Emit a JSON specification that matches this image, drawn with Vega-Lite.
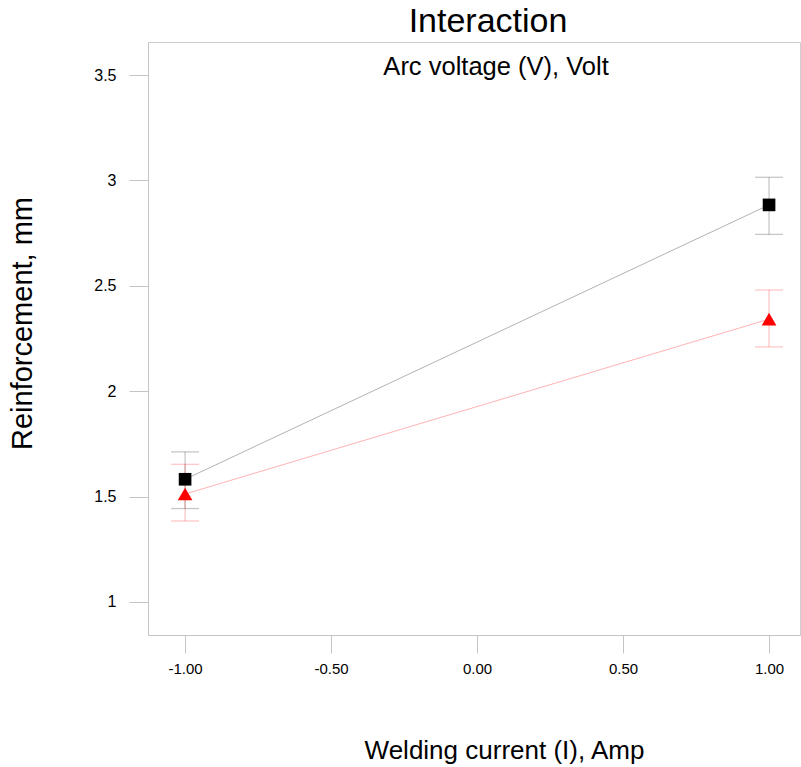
{
  "$schema": "https://vega.github.io/schema/vega-lite/v6.json",
  "autosize": "none",
  "width": 652,
  "height": 593,
  "padding": {"left": 148, "top": 42, "right": 1, "bottom": 132},
  "background": "white",
  "config": {
    "font": "Liberation Sans",
    "view": {"stroke": "#cfcfcf", "strokeWidth": 1},
    "axis": {"grid": false, "domainColor": "#c4c4c4", "tickColor": "#c4c4c4", "labelColor": "#000", "titleColor": "#000", "titleFontWeight": "normal", "labelFont": "Liberation Sans", "titleFont": "Liberation Sans"}
  },
  "title": {"text": "Interaction", "fontSize": 34, "fontWeight": "normal", "anchor": "middle", "dx": 14, "dy": 1, "color": "#000"},
  "datasets": {
    "pts": [
      {"series": "B-", "x": -1, "y": 1.582, "lo": 1.443, "hi": 1.712},
      {"series": "B-", "x": 1, "y": 2.884, "lo": 2.744, "hi": 3.015},
      {"series": "B+", "x": -1, "y": 1.512, "lo": 1.384, "hi": 1.653},
      {"series": "B+", "x": 1, "y": 2.342, "lo": 2.21, "hi": 2.48}
    ]
  },
  "layer": [
    {
      "data": {"name": "pts"},
      "mark": {"type": "line", "strokeWidth": 1, "opacity": 0.3},
      "encoding": {
        "x": {"field": "x", "type": "quantitative", "scale": {"domain": [-1.127, 1.106], "nice": false, "zero": false},
              "axis": {"values": [-1, -0.5, 0, 0.5, 1], "labelExpr": "replace(format(datum.value, '.2f'), '\u2212', '-')", "tickSize": 18, "labelPadding": 8, "labelFontSize": 15, "labelBaseline": "top",
                       "title": "Welding current (I), Amp", "titleFontSize": 26, "titleX": 356, "titleY": 123, "titleAlign": "center", "titleBaseline": "alphabetic", "titleAnchor": null}},
        "y": {"field": "y", "type": "quantitative", "scale": {"domain": [0.843, 3.657], "nice": false, "zero": false},
              "axis": {"values": [1, 1.5, 2, 2.5, 3, 3.5], "format": "~g", "tickSize": 19, "labelPadding": 13, "labelFontSize": 16,
                       "title": "Reinforcement, mm", "titleFontSize": 29, "titleX": -117, "titleY": 281, "titleAlign": "center", "titleBaseline": "alphabetic", "titleAngle": -90}},
        "color": {"field": "series", "type": "nominal", "scale": {"domain": ["B-", "B+"], "range": ["#000000", "#ff0000"]}, "legend": null},
        "detail": {"field": "series"}
      }
    },
    {
      "data": {"name": "pts"},
      "mark": {"type": "rule", "strokeWidth": 1.3, "opacity": 0.22},
      "encoding": {
        "x": {"field": "x", "type": "quantitative"},
        "y": {"field": "lo", "type": "quantitative"},
        "y2": {"field": "hi"},
        "color": {"field": "series", "type": "nominal", "legend": null}
      }
    },
    {
      "data": {"name": "pts"},
      "mark": {"type": "tick", "orient": "horizontal", "size": 28, "thickness": 1.3, "opacity": 0.22},
      "encoding": {
        "x": {"field": "x", "type": "quantitative"},
        "y": {"field": "lo", "type": "quantitative"},
        "color": {"field": "series", "type": "nominal", "legend": null}
      }
    },
    {
      "data": {"name": "pts"},
      "mark": {"type": "tick", "orient": "horizontal", "size": 28, "thickness": 1.3, "opacity": 0.22},
      "encoding": {
        "x": {"field": "x", "type": "quantitative"},
        "y": {"field": "hi", "type": "quantitative"},
        "color": {"field": "series", "type": "nominal", "legend": null}
      }
    },
    {
      "data": {"name": "pts"},
      "mark": {"type": "point", "filled": true, "opacity": 1},
      "encoding": {
        "x": {"field": "x", "type": "quantitative"},
        "y": {"field": "y", "type": "quantitative"},
        "color": {"field": "series", "type": "nominal", "legend": null},
        "size": {"field": "series", "type": "nominal", "scale": {"domain": ["B-", "B+"], "range": [160, 215]}, "legend": null},
        "shape": {"field": "series", "type": "nominal", "scale": {"domain": ["B-", "B+"], "range": ["square", "triangle-up"]}, "legend": null}
      }
    },
    {
      "data": {"values": [{"label": "Arc voltage (V), Volt", "x": 0.065, "y": 3.54}]},
      "mark": {"type": "text", "fontSize": 25.5, "baseline": "middle", "align": "center", "color": "#000"},
      "encoding": {
        "x": {"field": "x", "type": "quantitative"},
        "y": {"field": "y", "type": "quantitative"},
        "text": {"field": "label"}
      }
    }
  ]
}
